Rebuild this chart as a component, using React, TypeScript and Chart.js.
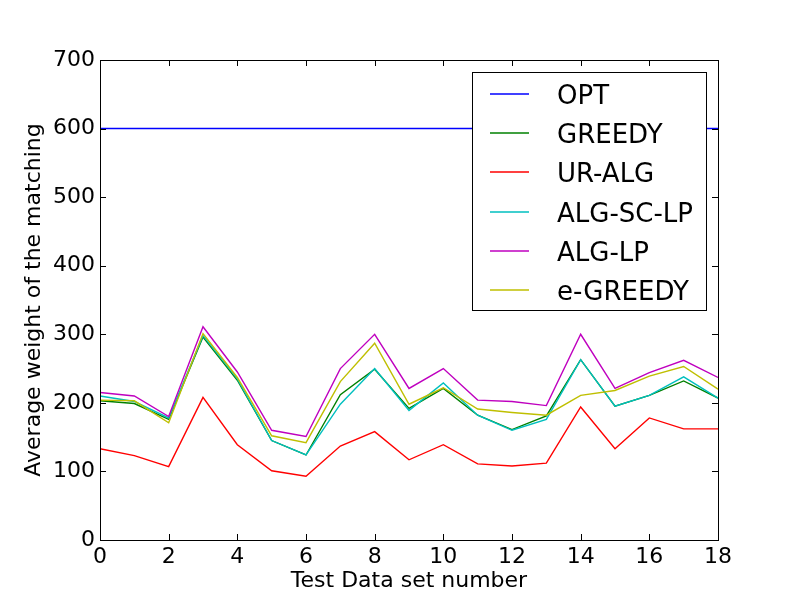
import React, { useEffect, useRef } from "react";
import { Chart, registerables } from "chart.js";

Chart.register(...registerables);

const setNumbers = [0, 1, 2, 3, 4, 5, 6, 7, 8, 9, 10, 11, 12, 13, 14, 15, 16, 17, 18];
const seriesNames = ["OPT", "GREEDY", "UR-ALG", "ALG-SC-LP", "ALG-LP", "e-GREEDY"];
const opt = [600, 600, 600, 600, 600, 600, 600, 600, 600, 600, 600, 600, 600, 600, 600, 600, 600, 600, 600];
const greedy = [203, 199, 176, 296, 233, 145, 124, 212, 249, 192, 221, 182, 161, 181, 263, 195, 211, 232, 207];
const urAlg = [133, 123, 107, 208, 139, 101, 93, 137, 158, 117, 139, 111, 108, 112, 194, 133, 178, 162, 162];
const algScLp = [210, 202, 178, 298, 235, 145, 124, 198, 250, 189, 229, 182, 160, 176, 263, 195, 211, 238, 207];
const algLp = [215, 210, 180, 311, 245, 160, 151, 250, 300, 221, 250, 204, 202, 196, 300, 221, 244, 262, 237];
const eGreedy = [204, 203, 171, 301, 237, 152, 142, 231, 287, 198, 222, 191, 186, 182, 211, 218, 239, 253, 220];
const colors = ["#0000ff", "#008000", "#ff0000", "#00bfbf", "#bf00bf", "#bfbf00"];
const xTitle = "Test Data set number";
const yTitle = "Average weight of the matching";

const FONT = "'DejaVu Sans', sans-serif";

const framePlugin = {
  id: "mplFrame",
  afterDraw(chart: any) {
    const ctx = chart.ctx;
    const a = chart.chartArea;
    const xs = chart.scales.x;
    const ys = chart.scales.y;
    ctx.save();
    ctx.strokeStyle = "#000";
    ctx.lineWidth = 1;
    ctx.strokeRect(Math.round(a.left) + 0.5, Math.round(a.top) + 0.5, Math.round(a.right - a.left), Math.round(a.bottom - a.top));
    const tl = 6;
    ctx.beginPath();
    xs.ticks.forEach((t: any) => {
      const px = Math.round(xs.getPixelForValue(t.value)) + 0.5;
      ctx.moveTo(px, a.bottom);
      ctx.lineTo(px, a.bottom - tl);
      ctx.moveTo(px, a.top);
      ctx.lineTo(px, a.top + tl);
    });
    ys.ticks.forEach((t: any) => {
      const py = Math.round(ys.getPixelForValue(t.value)) + 0.5;
      ctx.moveTo(a.left, py);
      ctx.lineTo(a.left + tl, py);
      ctx.moveTo(a.right, py);
      ctx.lineTo(a.right - tl, py);
    });
    ctx.stroke();

    // axis titles
    ctx.fillStyle = "#000";
    ctx.font = `22px ${FONT}`;
    ctx.textAlign = "center";
    ctx.textBaseline = "alphabetic";
    ctx.fillText(xTitle, (a.left + a.right) / 2, 587);
    ctx.save();
    ctx.translate(40, (a.top + a.bottom) / 2);
    ctx.rotate(-Math.PI / 2);
    ctx.fillText(yTitle, 0, 0);
    ctx.restore();

    // legend
    const bx = 472.5, by = 72.5, bw = 234, bh = 238;
    ctx.fillStyle = "#fff";
    ctx.fillRect(bx, by, bw, bh);
    ctx.strokeStyle = "#000";
    ctx.lineWidth = 1;
    ctx.strokeRect(bx, by, bw, bh);
    ctx.font = `26px ${FONT}`;
    ctx.textAlign = "left";
    chart.data.datasets.forEach((ds: any, i: number) => {
      const ly = 94 + i * 39.2;
      ctx.strokeStyle = colors[i];
      ctx.lineWidth = 1.5;
      ctx.beginPath();
      ctx.moveTo(490, Math.round(ly));
      ctx.lineTo(529, Math.round(ly));
      ctx.stroke();
      ctx.fillStyle = "#000";
      ctx.fillText(ds.label, 557, ly + 10);
    });
    ctx.restore();
  },
};

export default function App() {
  const ref = useRef<HTMLCanvasElement | null>(null);
  useEffect(() => {
    document.body.style.margin = "0";
    const allSeries = [opt, greedy, urAlg, algScLp, algLp, eGreedy];
    const chart = new Chart(ref.current as HTMLCanvasElement, {
      type: "line",
      data: {
        datasets: allSeries.map((vals, i) => ({
          label: seriesNames[i],
          data: vals.map((v, j) => ({ x: setNumbers[j], y: v })),
          borderColor: colors[i],
          backgroundColor: colors[i],
          borderWidth: 1.4,
          pointRadius: 0,
          tension: 0,
          fill: false,
          order: allSeries.length - 1 - i,
        })),
      },
      options: {
        animation: false,
        responsive: false,
        maintainAspectRatio: false,
        layout: { padding: { left: 0, right: 82, top: 60, bottom: 0 } },
        plugins: { legend: { display: false }, tooltip: { enabled: false } },
        scales: {
          x: {
            type: "linear",
            min: 0,
            max: 18,
            grid: { display: false, drawTicks: false },
            border: { display: false },
            ticks: { stepSize: 2, padding: 4, color: "#000", font: { family: FONT, size: 22 }, maxRotation: 0 },
            afterFit: (s: any) => { s.height = 60; },
          },
          y: {
            min: 0,
            max: 700,
            grid: { display: false, drawTicks: false },
            border: { display: false },
            ticks: { stepSize: 100, padding: 5, color: "#000", font: { family: FONT, size: 22 } },
            afterFit: (s: any) => { s.width = 100; },
          },
        },
      },
      plugins: [framePlugin],
    } as any);
    return () => chart.destroy();
  }, []);
  return (
    <div style={{ position: "absolute", left: 0, top: 0, width: 800, height: 600, background: "#fff" }}>
      <canvas ref={ref} width={800} height={600} style={{ width: 800, height: 600 }} />
    </div>
  );
}
